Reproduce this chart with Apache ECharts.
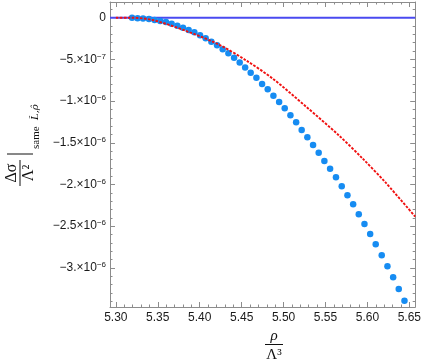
<!DOCTYPE html>
<html><head><meta charset="utf-8">
<script src="https://cdn.jsdelivr.net/npm/echarts@6/dist/echarts.min.js"></script>
<style>html,body{margin:0;padding:0;background:#fff}#c{width:424px;height:363px}</style>
</head><body><div id="c"></div>
<script>
// Blue dots (y in units of 1e-6)
const dotX = [5.3193, 5.3259, 5.3324, 5.3395, 5.3462, 5.3530, 5.3598, 5.3665, 5.3733, 5.3801, 5.3868, 5.3936, 5.4004, 5.4071, 5.4139, 5.4207, 5.4274, 5.4342, 5.4410, 5.4477, 5.4542, 5.4608, 5.4676, 5.4744, 5.4811, 5.4879, 5.4947, 5.5014, 5.5082, 5.5150, 5.5216, 5.5284, 5.5352, 5.5419, 5.5487, 5.5555, 5.5625, 5.5694, 5.5762, 5.5830, 5.5897, 5.5965, 5.6033, 5.6099, 5.6171, 5.6239, 5.6307, 5.6374, 5.6442];
const dotY = [0, -0.007, -0.010, -0.016, -0.028, -0.040, -0.052, -0.072, -0.096, -0.120, -0.148, -0.175, -0.211, -0.247, -0.288, -0.331, -0.379, -0.427, -0.480, -0.538, -0.597, -0.659, -0.720, -0.795, -0.859, -0.935, -1.011, -1.086, -1.170, -1.254, -1.347, -1.434, -1.526, -1.619, -1.718, -1.812, -1.914, -2.022, -2.130, -2.237, -2.357, -2.474, -2.594, -2.717, -2.849, -2.981, -3.113, -3.253, -3.393];
// Red dashed curve
const curveX = [5.300, 5.316, 5.3438, 5.3837, 5.4234, 5.4560, 5.4870, 5.5269, 5.5654, 5.5944, 5.6224, 5.6570];
const curveY = [0, 0, -0.028, -0.159, -0.325, -0.517, -0.730, -1.067, -1.406, -1.690, -1.985, -2.386];
// Blue zero line
const zeroX = [5.293, 5.657];
const zeroY = [0, 0];
// Ticks
const xTicks = [5.30, 5.35, 5.40, 5.45, 5.50, 5.55, 5.60, 5.65];
const xTickLabels = ['5.30', '5.35', '5.40', '5.45', '5.50', '5.55', '5.60', '5.65'];
const xMinorTicks = [5.31, 5.32, 5.33, 5.34, 5.36, 5.37, 5.38, 5.39, 5.41, 5.42, 5.43, 5.44, 5.46, 5.47, 5.48, 5.49, 5.51, 5.52, 5.53, 5.54, 5.56, 5.57, 5.58, 5.59, 5.61, 5.62, 5.63, 5.64];
const yTicks = [0, -0.5, -1, -1.5, -2, -2.5, -3];
const yTickMain = ['0', '−5.×10', '−1.×10', '−1.5×10', '−2.×10', '−2.5×10', '−3.×10'];
const yTickExp = ['', '−7', '−6', '−6', '−6', '−6', '−6'];
const yMinorTicks = [0.1, -0.1, -0.2, -0.3, -0.4, -0.6, -0.7, -0.8, -0.9, -1.1, -1.2, -1.3, -1.4, -1.6, -1.7, -1.8, -1.9, -2.1, -2.2, -2.3, -2.4, -2.6, -2.7, -2.8, -2.9, -3.1, -3.2, -3.3, -3.4];

const X_MIN = 5.293, X_MAX = 5.657, Y_MIN = -3.469, Y_MAX = 0.188;
const FRAME = '#8c8c8c';
const SANS = '"Liberation Sans", Arial, sans-serif';
const SERIF = '"Liberation Serif", "DejaVu Serif", serif';

function idx(arr, v) { for (let i = 0; i < arr.length; i++) if (Math.abs(arr[i] - v) < 1e-6) return i; return -1; }

function xAx(pos, ticks, len, line, label) {
  return {
    type: 'value', position: pos, min: X_MIN, max: X_MAX, gridIndex: 0,
    axisLine: { show: line, onZero: false, lineStyle: { color: FRAME, width: 1 } },
    axisTick: { show: true, inside: true, length: len, customValues: ticks, lineStyle: { color: FRAME, width: 1 } },
    axisLabel: label ? {
      show: true, customValues: xTicks, margin: 5, color: '#1a1a1a', fontSize: 12, fontFamily: SANS,
      formatter: v => { const i = idx(xTicks, v); return i >= 0 ? xTickLabels[i] : ''; }
    } : { show: false },
    splitLine: { show: false }
  };
}
function yAx(pos, ticks, len, line, label) {
  return {
    type: 'value', position: pos, min: Y_MIN, max: Y_MAX, gridIndex: 0,
    axisLine: { show: line, onZero: false, lineStyle: { color: FRAME, width: 1 } },
    axisTick: { show: true, inside: true, length: len, customValues: ticks, lineStyle: { color: FRAME, width: 1 } },
    axisLabel: label ? {
      show: true, customValues: yTicks, margin: 4, color: '#1a1a1a', fontSize: 12, fontFamily: SANS,
      formatter: v => { const i = idx(yTicks, v); if (i < 0) return ''; return yTickExp[i] ? '{m|' + yTickMain[i] + '}{s|' + yTickExp[i] + '}' : '{m|' + yTickMain[i] + '}'; },
      rich: {
        m: { fontSize: 12, fontFamily: SANS, color: '#1a1a1a', lineHeight: 14 },
        s: { fontSize: 8, fontFamily: SANS, color: '#1a1a1a', verticalAlign: 'top', lineHeight: 8 }
      }
    } : { show: false },
    splitLine: { show: false }
  };
}

const chart = echarts.init(document.getElementById('c'), null, { renderer: 'canvas' });
chart.setOption({
  animation: false,
  backgroundColor: '#fff',
  grid: { left: 110, right: 8, top: 2, bottom: 56, containLabel: false },
  xAxis: [xAx('bottom', xTicks, 5, true, true), xAx('bottom', xMinorTicks, 2.5, false, false), xAx('top', xTicks, 5, true, false), xAx('top', xMinorTicks, 2.5, false, false)],
  yAxis: [yAx('left', yTicks, 5, true, true), yAx('left', yMinorTicks, 2.5, false, false), yAx('right', yTicks, 5, true, false), yAx('right', yMinorTicks, 2.5, false, false)],
  series: [
    { type: 'line', data: zeroX.map((x, i) => [x, zeroY[i]]), symbol: 'none', lineStyle: { color: '#4a4af0', width: 2 }, z: 2 },
    { type: 'scatter', data: dotX.map((x, i) => [x, dotY[i]]), symbolSize: 6.5, itemStyle: { color: '#168cf2', opacity: 1 }, z: 3 },
    { type: 'line', data: curveX.map((x, i) => [x, curveY[i]]), smooth: 0.3, symbol: 'none', lineStyle: { color: '#f01010', width: 1.9, type: [2.6, 1.4] }, z: 4 }
  ],
  graphic: [
    { type: 'group', x: 20, y: 145, rotation: Math.PI / 2, children: [
      { type: 'text', x: -28, y: -8, style: { text: 'Δσ', font: '16px ' + SERIF, fill: '#111', align: 'center', verticalAlign: 'middle' } },
      { type: 'line', shape: { x1: -41, y1: 0, x2: -15, y2: 0 }, style: { stroke: '#111', lineWidth: 1 } },
      { type: 'text', x: -28, y: 9, style: { text: 'Λ²', font: '16px ' + SERIF, fill: '#111', align: 'center', verticalAlign: 'middle' } },
      { type: 'line', shape: { x1: -9, y1: -13, x2: -9, y2: 13 }, style: { stroke: '#111', lineWidth: 1 } },
      { type: 'text', x: -4, y: 16, style: { text: 'same', font: '11px ' + SERIF, fill: '#111', align: 'left', verticalAlign: 'middle' } },
      { type: 'text', x: 25, y: 15, style: { text: 'L̂,ρ̂', font: 'italic 10px "DejaVu Serif", serif', fill: '#111', align: 'left', verticalAlign: 'middle' } }
    ] },
    { type: 'text', x: 274, y: 336, style: { text: 'ρ', font: 'italic 15px ' + SERIF, fill: '#111', align: 'center', verticalAlign: 'middle' } },
    { type: 'line', shape: { x1: 265, y1: 344.5, x2: 283, y2: 344.5 }, style: { stroke: '#111', lineWidth: 1 } },
    { type: 'text', x: 274, y: 355, style: { text: 'Λ³', font: '15px ' + SERIF, fill: '#111', align: 'center', verticalAlign: 'middle' } }
  ]
});
</script></body></html>
